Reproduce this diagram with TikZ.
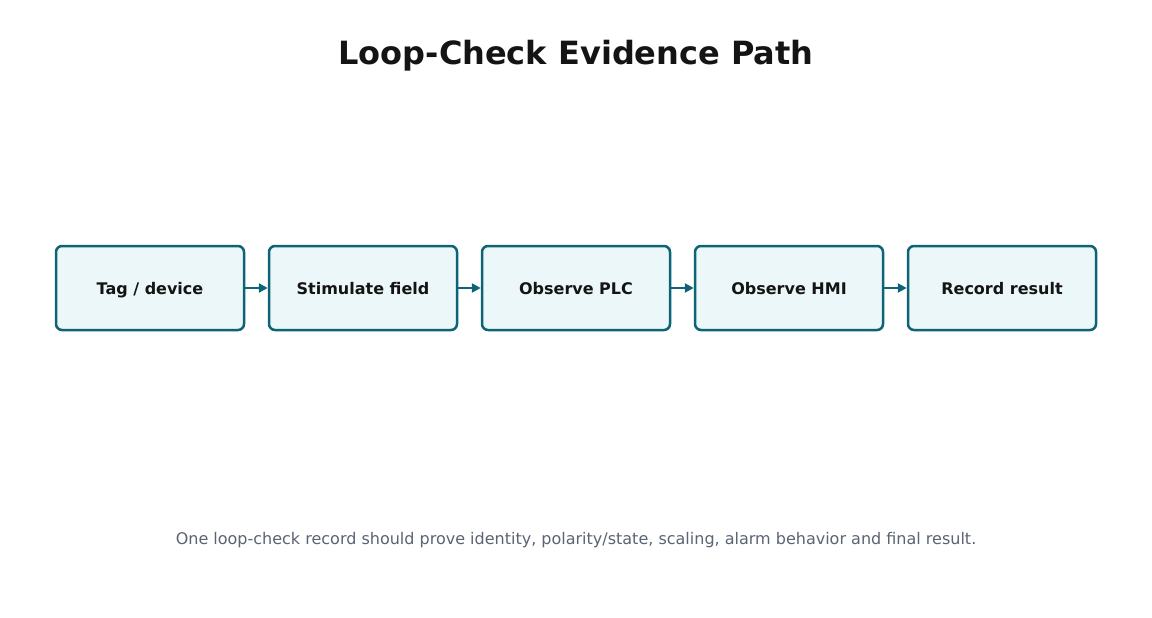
\documentclass[tikz,border=0pt]{standalone}
\usepackage{fontspec}
\setmainfont{DejaVu Sans}
\usetikzlibrary{arrows.meta}
\definecolor{edge}{HTML}{0E6376}
\definecolor{boxfill}{HTML}{ECF7F9}
\definecolor{ink}{HTML}{141414}
\definecolor{muted}{HTML}{5B6473}
\tikzset{
  stepbox/.style={draw=edge, fill=boxfill, line width=2.5pt, rounded corners=6pt,
    minimum width=188pt, minimum height=84pt, inner sep=0pt, text=ink,
    text height=13pt, text depth=0pt,
    font=\fontsize{16}{19}\selectfont\bfseries},
  link/.style={draw=edge, line width=2.5pt, -{Triangle[length=9pt,width=9pt]}}
}
\begin{document}
\begin{tikzpicture}[x=1pt,y=-1pt]
\useasboundingbox[fill=white] (0,0) rectangle (1152,618);
\node[text=ink, font=\fontsize{32}{38}\selectfont\bfseries] (title) at (576,56) {Loop-Check Evidence Path};
\node[stepbox] (a) at (150,288) {Tag / device};
\node[stepbox] (b) at (363,288) {Stimulate field};
\node[stepbox] (c) at (576,288) {Observe PLC};
\node[stepbox] (d) at (789,288) {Observe HMI};
\node[stepbox] (e) at (1002,288) {Record result};
\draw[link] (a) -- (b);
\draw[link] (b) -- (c);
\draw[link] (c) -- (d);
\draw[link] (d) -- (e);
\node[text=muted, font=\fontsize{16}{19}\selectfont] (note) at (576,540) {One loop-check record should prove identity, polarity/state, scaling, alarm behavior and final result.};
\end{tikzpicture}
\end{document}
